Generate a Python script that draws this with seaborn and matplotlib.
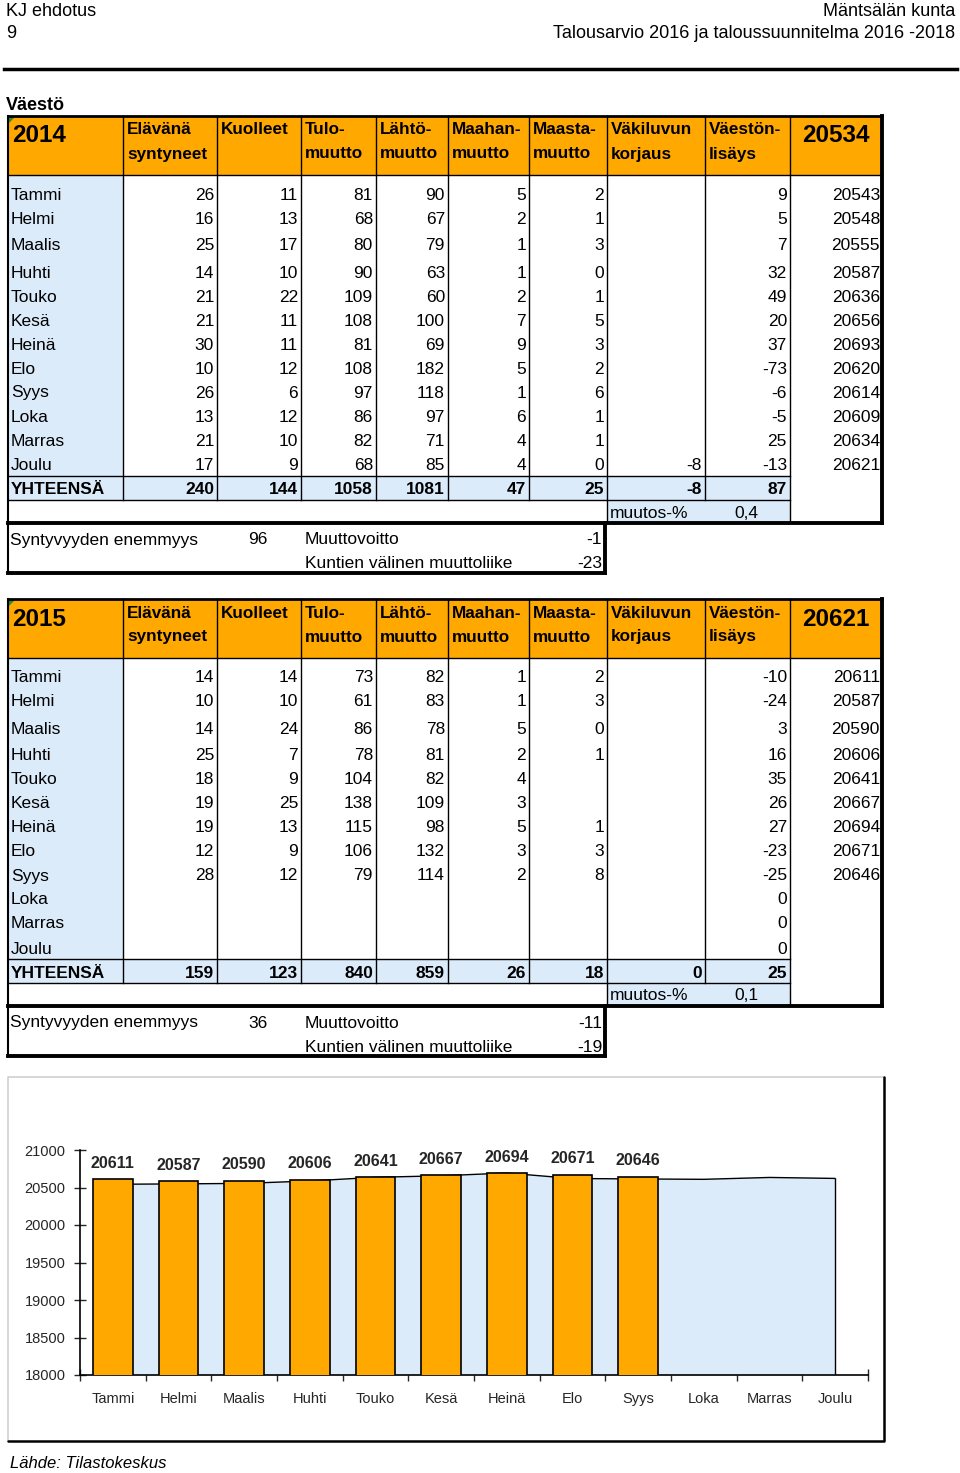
import numpy as np
import pandas as pd
import matplotlib
matplotlib.use("Agg")
import matplotlib.pyplot as plt
import seaborn as sns
from matplotlib.patches import Rectangle, Polygon

# --- data ---
months = ["Tammi", "Helmi", "Maalis", "Huhti", "Touko", "Kesä",
          "Heinä", "Elo", "Syys", "Loka", "Marras", "Joulu"]

header_labels = [("Elävänä", "syntyneet"), ("Kuolleet", ""), ("Tulo-", "muutto"),
                 ("Lähtö-", "muutto"), ("Maahan-", "muutto"), ("Maasta-", "muutto"),
                 ("Väkiluvun", "korjaus"), ("Väestön-", "lisäys")]

# 2014
births_2014 = [26, 16, 25, 14, 21, 21, 30, 10, 26, 13, 21, 17]
deaths_2014 = [11, 13, 17, 10, 22, 11, 11, 12, 6, 12, 10, 9]
tulo_2014 = [81, 68, 80, 90, 109, 108, 81, 108, 97, 86, 82, 68]
lahto_2014 = [90, 67, 79, 63, 60, 100, 69, 182, 118, 97, 71, 85]
maahan_2014 = [5, 2, 1, 1, 2, 7, 9, 5, 1, 6, 4, 4]
maasta_2014 = [2, 1, 3, 0, 1, 5, 3, 2, 6, 1, 1, 0]
korjaus_2014 = [None] * 11 + [-8]
lisays_2014 = [9, 5, 7, 32, 49, 20, 37, -73, -6, -5, 25, -13]
pop_2014 = [20543, 20548, 20555, 20587, 20636, 20656, 20693, 20620, 20614, 20609, 20634, 20621]
totals_2014 = [240, 144, 1058, 1081, 47, 25, -8, 87]
start_2014 = 20534
muutos_2014 = "0,4"
summary_2014 = (96, -1, -23)

# 2015
births_2015 = [14, 10, 14, 25, 18, 19, 19, 12, 28, None, None, None]
deaths_2015 = [14, 10, 24, 7, 9, 25, 13, 9, 12, None, None, None]
tulo_2015 = [73, 61, 86, 78, 104, 138, 115, 106, 79, None, None, None]
lahto_2015 = [82, 83, 78, 81, 82, 109, 98, 132, 114, None, None, None]
maahan_2015 = [1, 1, 5, 2, 4, 3, 5, 3, 2, None, None, None]
maasta_2015 = [2, 3, 0, 1, None, None, 1, 3, 8, None, None, None]
korjaus_2015 = [None] * 12
lisays_2015 = [-10, -24, 3, 16, 35, 26, 27, -23, -25, 0, 0, 0]
pop_2015 = [20611, 20587, 20590, 20606, 20641, 20667, 20694, 20671, 20646]
totals_2015 = [159, 123, 840, 859, 26, 18, 0, 25]
start_2015 = 20621
muutos_2015 = "0,1"
summary_2015 = (36, -11, -19)

ORANGE = "#FFA800"
BLUE = "#DCEBFA"

sns.set_theme(style="white")
plt.rcParams["font.family"] = ["Liberation Sans", "DejaVu Sans"]

W, H = 960, 1473
fig = plt.figure(figsize=(9.6, 14.73), dpi=100)
page = fig.add_axes([0, 0, 1, 1])
page.set_xlim(0, W)
page.set_ylim(H, 0)
page.axis("off")


def txt(x, y, s, ha="left", size=12.5, weight="normal", style="normal"):
    # small downward nudge so the caps sit on the visual row centre
    page.text(x, y + 2, s, ha=ha, va="center", fontsize=size, fontweight=weight,
              fontstyle=style, color="black")


def hline(y, x0, x1, lw=1.0):
    page.plot([x0, x1], [y, y], color="black", lw=lw, solid_capstyle="projecting")


def vline(x, y0, y1, lw=1.0):
    page.plot([x, x], [y0, y1], color="black", lw=lw, solid_capstyle="projecting")


# page header
txt(6, 9, "KJ ehdotus", size=13)
txt(6, 31, "9", size=13)
txt(955, 9, "Mäntsälän kunta", ha="right", size=13)
txt(955, 31, "Talousarvio 2016 ja taloussuunnitelma 2016 -2018", ha="right", size=13)
hline(69, 4, 957, lw=2.5)
txt(6, 103, "Väestö", size=13, weight="bold")

cols = [8, 123, 217, 301, 376, 448, 529, 607, 705, 790, 882]
row_off = [77, 101, 128, 155, 179, 203, 227, 251, 275, 299, 323, 348]


def fmt(v):
    return "" if v is None else str(v)


def draw_table(top, year, start, series, pops, totals, muutos, summary):
    hb = top + 59
    tot_top, tot_bot, bot = top + 360, top + 384, top + 407
    page.add_patch(Rectangle((8, top), 874, 59, color=ORANGE, lw=0))
    page.add_patch(Rectangle((8, hb), 115, tot_top - hb, color=BLUE, lw=0))
    page.add_patch(Rectangle((8, tot_top), 782, 24, color=BLUE, lw=0))
    page.add_patch(Rectangle((607, tot_bot), 183, 23, color=BLUE, lw=0))
    page.add_patch(Polygon([(8, top), (16, top), (8, top + 8)], color="#2E8B2E", lw=0))

    txt(12, top + 18, year, size=17.5, weight="bold")
    txt(836, top + 18, str(start), ha="center", size=17.5, weight="bold")
    for i, (l1, l2) in enumerate(header_labels):
        txt(cols[i + 1] + 4, top + 12, l1, size=12.3, weight="bold")
        txt(cols[i + 1] + 4, top + 36, l2, size=12.3, weight="bold")

    for r, m in enumerate(months):
        y = top + row_off[r]
        txt(11, y, m)
        for c, s in enumerate(series):
            txt(cols[c + 2] - 3, y, fmt(s[r]), ha="right")
        if r < len(pops):
            txt(cols[10] - 2, y, str(pops[r]), ha="right")

    ty = top + 372
    txt(11, ty, "YHTEENSÄ", weight="bold")
    for c, v in enumerate(totals):
        txt(cols[c + 2] - 3, ty, str(v), ha="right", weight="bold")
    txt(610, top + 395, "muutos-%")
    txt(746, top + 395, muutos, ha="center")

    # grid lines
    hline(top, 8, 882, lw=2)
    hline(hb, 8, 882)
    hline(tot_top, 8, 790)
    hline(tot_bot, 8, 790)
    for x in cols[1:-2]:
        vline(x, top, tot_bot)
    vline(607, tot_bot, bot)
    vline(790, top, bot)
    vline(8, top, bot, lw=1.5)
    vline(882, top, bot, lw=2.8)
    hline(bot, 8, 882, lw=2.8)

    # summary box
    sb = top + 457
    vline(8, bot, sb, lw=1.5)
    vline(605, bot, sb, lw=2.8)
    hline(sb, 8, 605, lw=2.8)
    synt, voitto, kunt = summary
    txt(10, top + 422, "Syntyvyyden enemmyys")
    txt(258, top + 422, str(synt), ha="center")
    txt(305, top + 422, "Muuttovoitto")
    txt(602, top + 422, str(voitto), ha="right")
    txt(305, top + 446, "Kuntien välinen muuttoliike")
    txt(602, top + 446, str(kunt), ha="right")


draw_table(116, "2014", start_2014,
           [births_2014, deaths_2014, tulo_2014, lahto_2014, maahan_2014,
            maasta_2014, korjaus_2014, lisays_2014],
           pop_2014, totals_2014, muutos_2014, summary_2014)
draw_table(599, "2015", start_2015,
           [births_2015, deaths_2015, tulo_2015, lahto_2015, maahan_2015,
            maasta_2015, korjaus_2015, lisays_2015],
           pop_2015, totals_2015, muutos_2015, summary_2015)

# chart frame
page.plot([8, 8, 884], [1441, 1077, 1077], color="#D0D0D0", lw=1.2)
page.plot([884, 884, 8], [1077, 1441, 1441], color="black", lw=1.8)
txt(10, 1462, "Lähde: Tilastokeskus", size=12, style="italic")

# --- bar chart ---
ax = fig.add_axes([80 / W, (H - 1375) / H, 788 / W, 225 / H])
ax.set_facecolor("none")
df15 = pd.DataFrame({"kk": months[:len(pop_2015)], "vakiluku": pop_2015})
sns.barplot(data=df15, x="kk", y="vakiluku", order=months, color=ORANGE,
            saturation=1, width=0.6, edgecolor="black", linewidth=1.2, ax=ax)
for p in ax.patches:
    p.set_zorder(3)
pos = np.arange(len(months))
ax.fill_between(pos, pop_2014, 18000, color=BLUE, lw=0, zorder=1)
sns.lineplot(x=pos, y=pop_2014, color="black", lw=1, ax=ax, zorder=2)
ax.vlines(pos[-1], 18000, pop_2014[-1], color="black", lw=1, zorder=2)
ax.bar_label(ax.containers[0], fmt="{:.0f}", padding=6, fontsize=11.5,
             fontweight="bold")

ax.set_ylim(18000, 21000)
ax.set_xlim(-0.5, 11.5)
ax.set_yticks(np.arange(18000, 21001, 500))
ax.set_xticks(pos)
ax.set_xticklabels(months)
ax.set_xticks(np.arange(-0.5, 12, 1), minor=True)
ax.tick_params(axis="x", which="major", length=0, pad=12, labelsize=10.5)
ax.tick_params(axis="x", which="minor", length=9, direction="inout", width=1, bottom=True)
ax.tick_params(axis="y", length=9, direction="inout", width=1, pad=6, labelsize=10.5, left=True)
ax.set_xlabel("")
ax.set_ylabel("")
for s in ["top", "right"]:
    ax.spines[s].set_visible(False)
for s in ["left", "bottom"]:
    ax.spines[s].set_color("black")
    ax.spines[s].set_linewidth(1.2)
ax.grid(False)

fig.savefig("out.png", dpi=100)
